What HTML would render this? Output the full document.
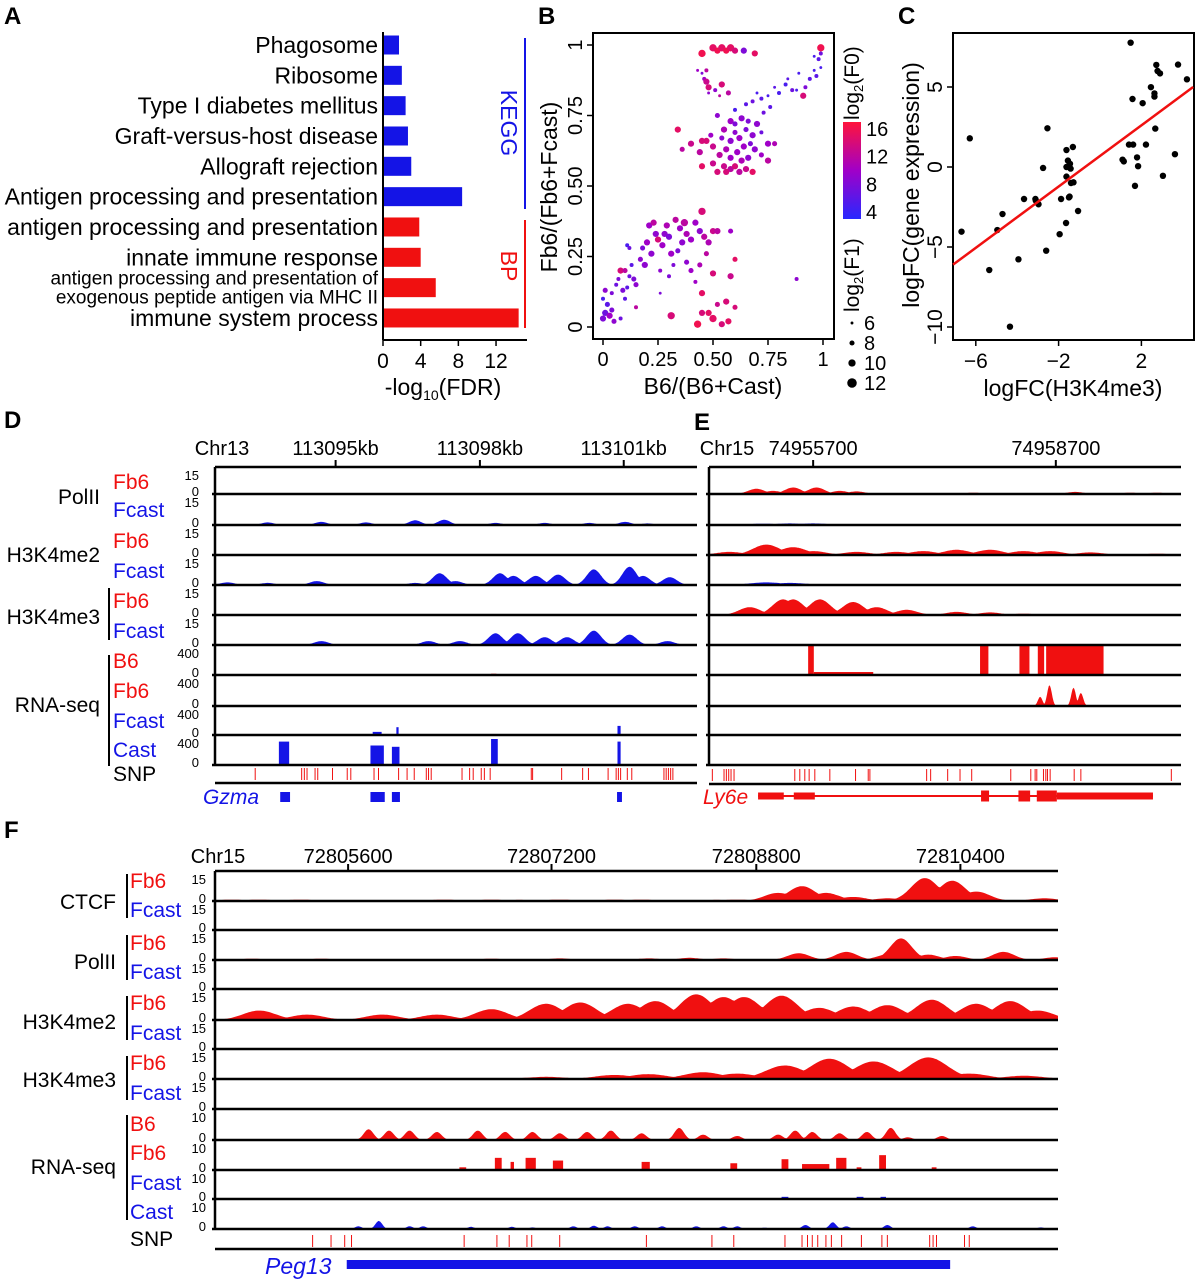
<!DOCTYPE html>
<html><head><meta charset="utf-8"><style>
html,body{margin:0;padding:0;background:#fff;}
svg{display:block;font-family:"Liberation Sans",Arial,sans-serif;}
</style></head><body>
<svg id="fig" width="1196" height="1280" viewBox="0 0 1196 1280" xmlns="http://www.w3.org/2000/svg"></svg>
<script>
// ---------- Panel A data ----------
const aCategories=["Phagosome","Ribosome","Type I diabetes mellitus","Graft-versus-host disease","Allograft rejection","Antigen processing and presentation","antigen processing and presentation","innate immune response","antigen processing and presentation of|exogenous peptide antigen via MHC II","immune system process"];
const aValues=[1.7,2.0,2.4,2.65,3.0,8.4,3.85,4.0,5.6,14.4];
const aGroups=["KEGG","KEGG","KEGG","KEGG","KEGG","KEGG","BP","BP","BP","BP"];
const aTicks=[0,4,8,12];
// ---------- Panel B data ----------
const bX=[0.45,0.50,0.52,0.54,0.56,0.58,0.60,0.64,0.69,0.99,0.43,0.45,0.47,0.46,0.47,0.48,0.54,0.51,0.57,0.48,0.53,0.60,0.65,0.68,0.70,0.72,0.75,0.78,0.80,0.83,0.86,0.88,0.91,0.92,0.94,0.96,0.97,0.99,0.98,0.96,0.99,0.84,0.89,0.76,0.73,0.52,0.58,0.60,0.63,0.66,0.70,0.55,0.60,0.62,0.65,0.68,0.72,0.58,0.64,0.67,0.56,0.61,0.69,0.53,0.58,0.63,0.66,0.72,0.50,0.47,0.45,0.40,0.34,0.36,0.44,0.50,0.45,0.55,0.58,0.60,0.65,0.68,0.56,0.75,0.78,0.75,0.52,0.62,0.49,0.54,
0.00,0.01,0.02,0.00,0.03,0.05,0.01,0.04,0.06,0.07,0.08,0.10,0.09,0.11,0.12,0.14,0.10,0.15,0.13,0.11,0.12,0.17,0.18,0.19,0.20,0.22,0.24,0.21,0.23,0.25,0.27,0.28,0.29,0.30,0.31,0.33,0.35,0.37,0.38,0.40,0.42,0.44,0.45,0.46,0.48,0.50,0.52,0.58,0.36,0.34,0.32,0.26,0.30,0.38,0.40,0.44,0.47,0.60,0.58,0.50,0.45,0.48,0.50,0.43,0.54,0.57,0.56,0.52,0.31,0.15,0.88,0.60,0.45,0.42,0.26,0.08,0.04];
const bY=[0.97,0.99,0.98,0.99,0.98,0.99,0.98,0.98,0.97,0.99,0.91,0.90,0.91,0.88,0.87,0.85,0.86,0.84,0.83,0.83,0.82,0.77,0.79,0.80,0.83,0.81,0.82,0.85,0.83,0.86,0.84,0.84,0.82,0.85,0.88,0.91,0.89,0.92,0.95,0.96,0.97,0.88,0.90,0.78,0.76,0.75,0.73,0.72,0.74,0.73,0.72,0.70,0.69,0.67,0.70,0.68,0.69,0.66,0.64,0.65,0.63,0.62,0.63,0.61,0.60,0.59,0.60,0.61,0.64,0.66,0.66,0.65,0.70,0.63,0.62,0.58,0.57,0.57,0.56,0.57,0.56,0.55,0.55,0.59,0.65,0.65,0.55,0.55,0.68,0.67,
0.03,0.05,0.08,0.10,0.04,0.02,0.13,0.12,0.15,0.17,0.20,0.20,0.13,0.14,0.18,0.17,0.10,0.15,0.22,0.29,0.28,0.24,0.28,0.22,0.30,0.26,0.33,0.36,0.37,0.31,0.29,0.33,0.36,0.32,0.26,0.38,0.35,0.37,0.33,0.31,0.37,0.34,0.41,0.32,0.30,0.34,0.34,0.34,0.30,0.27,0.22,0.20,0.18,0.23,0.20,0.22,0.26,0.24,0.18,0.19,0.12,0.05,0.03,0.01,0.01,0.02,0.09,0.08,0.04,0.07,0.17,0.07,0.05,0.16,0.12,0.03,0.06];
const bF0=[16,15,16,15,16,15,14,8,15,16,10,8,12,10,13,14,14,9,12,9,12,5,6,7,5,6,5,6,5,5,7,5,14,8,6,5,6,5,6,5,7,6,5,6,7,9,10,8,9,8,9,11,9,10,8,9,7,9,10,8,11,10,9,12,10,11,9,10,13,14,14,13,15,12,12,13,15,13,12,14,13,15,14,12,11,10,14,12,10,9,
8,7,6,5,10,9,9,8,7,8,14,12,8,6,7,8,6,9,6,5,7,9,8,9,10,9,9,10,12,14,10,9,11,8,10,12,10,12,11,10,10,9,14,12,11,13,12,10,9,8,8,9,8,9,10,11,12,15,13,14,15,15,15,16,14,15,14,13,14,12,9,14,14,10,8,7,8];
const bF1=[10,10,9,10,9,10,9,9,9,10,6,6,7,7,9,9,9,7,8,6,6,7,7,7,6,7,6,6,7,7,7,6,9,7,7,6,7,6,7,6,7,6,6,7,7,8,9,8,9,8,9,9,8,9,8,9,7,9,9,8,9,9,9,9,9,9,9,8,9,9,9,9,9,8,9,9,9,9,9,9,9,9,9,9,8,9,9,9,8,8,
9,9,8,7,9,8,8,7,7,7,9,8,8,7,7,8,7,8,7,7,7,8,8,9,9,9,9,9,9,9,9,9,9,9,9,9,9,10,9,9,9,9,10,9,9,9,9,8,9,8,7,7,7,8,8,8,8,8,9,9,9,9,10,10,9,9,9,8,10,7,7,8,9,7,6,7,8];
const bTicks=[0,0.25,0.5,0.75,1];
const bTickLabels=["0","0.25","0.50","0.75","1"];
const bColorTicks=[4,8,12,16];
const bSizeTicks=[6,8,10,12];
// ---------- Panel C data ----------
const cX=[-6.29,-6.69,-5.35,-4.96,-4.71,-4.35,-3.94,-3.67,-3.12,-3.10,-2.97,-2.75,-2.6,-2.54,-1.95,-1.88,-1.62,-1.62,-1.62,-1.64,-1.55,-1.5,-1.47,-1.42,-1.31,-1.28,-1.06,1.09,1.15,1.48,1.57,1.6,1.4,1.69,1.79,1.84,2.06,2.22,2.46,2.63,2.63,2.67,2.72,2.78,2.9,3.04,3.62,3.77,4.2,-1.4,-1.45];
const cY=[1.79,-4.04,-6.44,-3.94,-2.94,-9.98,-5.77,-2.0,-2.0,-2.1,-2.33,-0.06,-5.23,2.42,-4.2,-2.0,1.06,0.0,-0.6,-3.5,0.4,-1.9,-1.85,-0.1,1.25,-0.96,-2.75,0.46,0.35,7.77,4.25,1.4,1.4,-1.18,0.6,0.05,3.99,1.4,4.99,4.6,4.4,2.4,6.38,6.0,5.85,-0.55,0.8,6.4,5.48,-1.0,0.2];
const cFit=[0.69,0.957];
const cXTicks=[-6,-2,2];
const cYTicks=[5,0,-5,-10];
// ---------- Track data (positions in panel reading units, amplitudes 0-1) ----------
const dPolFcast=[[600,0.1],[720,0.12],[820,0.1],[930,0.18],[995,0.2],[1110,0.08],[1220,0.08],[1320,0.08],[1400,0.12],[1450,0.06]];
const dMe2Fcast=[[510,0.1],[600,0.08],[710,0.15],[930,0.08],[985,0.45],[1020,0.15],[1120,0.45],[1150,0.35],[1200,0.35],[1250,0.4],[1330,0.6],[1410,0.7],[1440,0.35],[1500,0.3]];
const dMe3Fcast=[[720,0.15],[960,0.15],[1030,0.15],[1110,0.45],[1160,0.45],[1220,0.3],[1270,0.3],[1330,0.55],[1410,0.4],[1495,0.15]];
const dRnaFcast=[[835,855,0.12],[888,893,0.3],[1383,1390,0.35]];
const dRnaCast=[[625,648,0.9],[830,860,0.75],[878,895,0.7],[1100,1115,1.0],[1383,1390,0.9]];
const dRnaB6=[[1100,1112,0.05],[835,850,0.03]];
const dSnp=[572,676,682,688,706,712,745,778,786,838,848,893,912,928,955,960,966,1035,1052,1060,1078,1085,1098,1190,1193,1258,1305,1318,1362,1380,1385,1390,1405,1415,1487,1492,1497,1502,1507];
const dGene=[[628,650],[830,862],[878,896],[1382,1393]];
const ePolFb6=[[200,0.2],[250,0.12],[310,0.25],[380,0.25],[450,0.12],[500,0.1],[850,0.05],[1155,0.08],[1320,0.05],[1400,0.05]];
const ePolFcast=[[220,0.05],[300,0.06],[370,0.06]];
const eMe2Fb6=[[120,0.12],[230,0.4],[310,0.3],[370,0.15],[500,0.12],[620,0.12],[700,0.15],[800,0.2],[900,0.2],[1000,0.15],[1080,0.15],[1200,0.1],[1400,0.05]];
const eMe2Fcast=[[230,0.1],[300,0.08],[500,0.04],[700,0.04],[900,0.04],[1100,0.04]];
const eMe3Fb6=[[180,0.3],[280,0.6],[310,0.6],[390,0.6],[490,0.5],[560,0.3],[650,0.2],[800,0.12],[900,0.1],[1000,0.05],[1200,0.03],[1420,0.03]];
const eRnaB6=[[355,372,1.0],[372,550,0.1],[870,895,1.0],[988,1018,1.0],[1043,1062,1.0],[1068,1240,1.0]];
const eRnaFb6=[[1050,0.35],[1078,0.8],[1150,0.7],[1172,0.5]];
const eSnp=[68,103,110,117,124,133,315,330,345,358,375,420,497,535,540,710,722,773,810,845,962,1022,1035,1040,1060,1067,1072,1080,1152,1172,1443];
const eExons=[[205,282],[312,375],[873,897],[985,1020],[1040,1100],[1100,1388]];
const fCtcfFb6=[[340,0.05],[380,0.05],[440,0.05],[650,0.05],[720,0.05],[760,0.04],[820,0.05],[900,0.05],[940,0.05],[1050,0.04],[1080,0.05],[1140,0.3],[1175,0.55],[1210,0.3],[1250,0.15],[1300,0.1],[1355,0.85],[1395,0.75],[1430,0.35],[1530,0.1]];
const fPolFb6=[[370,0.05],[470,0.05],[720,0.05],[820,0.06],[950,0.06],[1010,0.08],[1060,0.06],[1170,0.25],[1240,0.3],[1300,0.2],[1320,0.8],[1360,0.2],[1400,0.15],[1470,0.3],[1545,0.1]];
const fMe2Fb6=[[380,0.35],[450,0.2],[560,0.2],[640,0.2],[720,0.4],[800,0.6],[850,0.65],[920,0.6],[960,0.7],[1020,0.95],[1060,0.85],[1090,0.85],[1145,0.9],[1200,0.45],[1250,0.5],[1300,0.55],[1365,0.75],[1430,0.6],[1480,0.7],[1520,0.35]];
const fMe3Fb6=[[480,0.03],[600,0.03],[700,0.03],[800,0.08],[900,0.15],[950,0.18],[1030,0.25],[1080,0.2],[1150,0.5],[1215,0.75],[1280,0.65],[1360,0.8],[1420,0.2],[1500,0.12]];
const fRnaB6=[[540,0.4],[570,0.35],[600,0.35],[640,0.3],[700,0.35],[740,0.3],[780,0.3],[820,0.25],[860,0.3],[895,0.35],[940,0.25],[995,0.45],[1030,0.2],[1080,0.15],[1140,0.2],[1165,0.35],[1190,0.3],[1230,0.25],[1270,0.3],[1305,0.45],[1330,0.1],[1380,0.15]];
const fRnaFb6=[[673,683,0.1],[725,735,0.45],[748,753,0.3],[770,785,0.45],[810,825,0.35],[940,952,0.3],[1070,1080,0.25],[1145,1155,0.4],[1175,1215,0.22],[1225,1240,0.45],[1255,1262,0.1],[1288,1298,0.55],[1365,1372,0.1]];
const fRnaFcast=[[1145,1155,0.08],[1255,1265,0.08],[1290,1298,0.08]];
const fRnaCast=[[525,0.1],[555,0.3],[600,0.1],[620,0.1],[690,0.08],[750,0.08],[780,0.06],[840,0.1],[870,0.12],[890,0.1],[930,0.1],[970,0.1],[1020,0.1],[1060,0.1],[1080,0.1],[1120,0.05],[1180,0.15],[1220,0.25],[1240,0.1],[1300,0.15],[1425,0.1],[1525,0.06]];
const fSnp=[458,485,505,515,680,728,746,772,779,820,947,1043,1075,1150,1175,1183,1190,1198,1210,1218,1233,1262,1292,1300,1362,1367,1372,1413,1420];
const fGene=[[508,1392]];

const NS="http://www.w3.org/2000/svg";
const svg=document.getElementById('fig');
const RED="#f01010", BLUE="#1414e6";
function el(tag,attrs,parent){const e=document.createElementNS(NS,tag);for(const k in attrs)e.setAttribute(k,attrs[k]);(parent||svg).appendChild(e);return e;}
function txt(s,x,y,attrs,parent){const t=el('text',Object.assign({x:x,y:y},attrs||{}),parent);t.textContent=s;return t;}

// panel letters
[["A",4,24],["B",538,24],["C",898,24],["D",4,428],["E",694,430],["F",4,838]].forEach(p=>{
 const t=txt(p[0],p[1],p[2],{'font-size':24,'font-weight':'bold'});
 
 
});

// ===== Panel A =====
(function(){
 const g=el('g',{});
 
 
 const x0=383, k=9.42;
 const xs=v=>x0+v*k;
 const ys=i=>45+i*30.33;
 aValues.forEach((v,i)=>{
  const r=el('rect',{x:x0,y:ys(i)-9.5,width:xs(v)-x0,height:19,fill:aGroups[i]==="KEGG"?BLUE:RED},g);
  
  
  const parts=aCategories[i].split('|');
  if(parts.length===1){const t=txt(parts[0],378,ys(i)+8,{'font-size':23,'text-anchor':'end',textLength:null},g);
   t.removeAttribute('textLength');
   
   }
  else{parts.forEach((p,j)=>{const t=txt(p,378,ys(i)-3+j*19,{'font-size':19,'text-anchor':'end'},g);
   
   });}
 });
 el('line',{x1:x0,y1:32,x2:x0,y2:340,stroke:'#000','stroke-width':2},g);
 el('line',{x1:x0,y1:340,x2:527,y2:340,stroke:'#000','stroke-width':2},g);
 aTicks.forEach(t=>{el('line',{x1:xs(t),y1:340,x2:xs(t),y2:346,stroke:'#000','stroke-width':1.5},g);
  const l=txt(String(t),xs(t),368,{'font-size':21,'text-anchor':'middle'},g);
  
  });
 const xt=el('text',{x:443,y:395,'font-size':23,'text-anchor':'middle'},g);
 xt.innerHTML='-log<tspan font-size="14" dy="5">10</tspan><tspan dy="-5">(FDR)</tspan>';
 
 
 el('line',{x1:525,y1:38,x2:525,y2:209,stroke:BLUE,'stroke-width':2},g);
 el('line',{x1:525,y1:220,x2:525,y2:328,stroke:RED,'stroke-width':2},g);
 const k1=txt('KEGG',0,0,{'font-size':23,fill:BLUE,'text-anchor':'middle',transform:'translate(501,123) rotate(90)'},g);
 
 
 const k2=txt('BP',0,0,{'font-size':23,fill:RED,'text-anchor':'middle',transform:'translate(501,266) rotate(90)'},g);
 
 
})();

// ===== Panel B =====
function cmap(c){let t=Math.max(0,Math.min(1,(c-3)/14));
 const a=[40,40,255],m=[160,0,200],b=[255,20,60];let r;
 if(t<0.5){const u=t/0.5;r=a.map((v,i)=>v+(m[i]-v)*u);}else{const u=(t-0.5)/0.5;r=m.map((v,i)=>v+(b[i]-v)*u);}
 return 'rgb('+r.map(Math.round).join(',')+')';}
function rad(s){return 0.9+(s-5)*0.55;}
(function(){
 const g=el('g',{});
 
 
 const xs=v=>603+v*220, ys=v=>327-v*282;
 el('rect',{x:593,y:33,width:241,height:306,fill:'none',stroke:'#000','stroke-width':2},g);
 bX.forEach((x,i)=>{const c=el('circle',{cx:xs(x),cy:ys(bY[i]),r:rad(bF1[i]),fill:cmap(bF0[i])},g);
  
  });
 bTicks.forEach((t,i)=>{
  el('line',{x1:xs(t),y1:339,x2:xs(t),y2:345,stroke:'#000','stroke-width':1.5},g);
  txt(bTickLabels[i],xs(t),366,{'font-size':20,'text-anchor':'middle'},g);
  el('line',{x1:587,y1:ys(t),x2:593,y2:ys(t),stroke:'#000','stroke-width':1.5},g);
  txt(bTickLabels[i],0,0,{'font-size':20,'text-anchor':'middle',transform:'translate(582,'+ys(t)+') rotate(-90)'},g);
 });
 const xt=txt('B6/(B6+Cast)',713,394,{'font-size':23,'text-anchor':'middle'},g);
 
 
 const yt=txt('Fb6/(Fb6+Fcast)',0,0,{'font-size':23,'text-anchor':'middle',transform:'translate(557,187) rotate(-90)'},g);
 
 
 const defs=el('defs',{},g);
 const lg=el('linearGradient',{id:'cb',x1:0,y1:1,x2:0,y2:0},defs);
 [0,0.5,1].forEach(o=>el('stop',{offset:o,'stop-color':cmap(3+o*14)},lg));
 const cb=el('rect',{x:843,y:122,width:18,height:97,fill:'url(#cb)'},g);
 
 
 const cy=c=>219-(c-3)/14*97;
 bColorTicks.forEach(c=>txt(String(c),866,cy(c)+7,{'font-size':20},g));
 const t1=el('text',{'font-size':21,transform:'translate(859,120) rotate(-90)'},g);
 t1.innerHTML='log<tspan font-size="13" dy="4">2</tspan><tspan dy="-4">(F0)</tspan>';
 
 
 const t2=el('text',{'font-size':21,transform:'translate(859,312) rotate(-90)'},g);
 t2.innerHTML='log<tspan font-size="13" dy="4">2</tspan><tspan dy="-4">(F1)</tspan>';
 
 
 bSizeTicks.forEach((s,i)=>{const yy=323+i*20;
  const c=el('circle',{cx:852,cy:yy,r:rad(s),fill:'#000'},g);
  
  
  txt(String(s),864,yy+7,{'font-size':20},g);});
})();

// ===== Panel C =====
(function(){
 const g=el('g',{});
 
 
 const xs=v=>1100+v*20.7, ys=v=>167-v*16;
 const xmin=-7.1,xmax=4.5;
 el('rect',{x:953,y:33,width:241,height:307,fill:'none',stroke:'#000','stroke-width':2},g);
 cX.forEach((x,i)=>{const c=el('circle',{cx:xs(x),cy:ys(cY[i]),r:3.2,fill:'#000'},g);
  
  });
 const fl=el('line',{x1:xs(xmin),y1:ys(cFit[0]+cFit[1]*xmin),x2:xs(xmax),y2:ys(cFit[0]+cFit[1]*xmax),stroke:'#f01010','stroke-width':2.5},g);
 
 
 cXTicks.forEach(t=>{el('line',{x1:xs(t),y1:340,x2:xs(t),y2:346,stroke:'#000','stroke-width':1.5},g);
  txt(String(t).replace('-','\u2212'),xs(t),368,{'font-size':21,'text-anchor':'middle'},g);});
 cYTicks.forEach(t=>{el('line',{x1:947,y1:ys(t),x2:953,y2:ys(t),stroke:'#000','stroke-width':1.5},g);
  txt(String(t).replace('-','\u2212'),0,0,{'font-size':21,'text-anchor':'middle',transform:'translate(942,'+ys(t)+') rotate(-90)'},g);});
 const xt=txt('logFC(H3K4me3)',1073,396,{'font-size':23,'text-anchor':'middle'},g);
 
 
 const yt=txt('logFC(gene expression)',0,0,{'font-size':23,'text-anchor':'middle',transform:'translate(919,185) rotate(-90)'},g);
 
 
})();

// ===== Genome tracks =====
function makeScale(d0,d1,p0,p1){return v=>p0+(v-d0)/(d1-d0)*(p1-p0);}
function peakTrack(g,xs,d0,d1,base,h,peaks,color,sig){
 let d='M'+xs(d0)+','+base;const N=500;
 for(let i=0;i<=N;i++){const u=d0+(d1-d0)*i/N;let v=0;
  peaks.forEach(p=>{const z=(u-p[0])/sig;v=Math.max(v,p[1]*Math.exp(-z*z/2));});
  v=Math.min(v,1);d+='L'+xs(u).toFixed(1)+','+(base-v*h).toFixed(1);}
 d+='L'+xs(d1)+','+base+'Z';
 const p=el('path',{d:d,fill:color},g);
 
 
}
function blockTrack(g,xs,base,h,blocks,color){
 blocks.forEach(b=>{const r=el('rect',{x:xs(b[0]),y:base-b[2]*h,width:Math.max(1,xs(b[1])-xs(b[0])),height:b[2]*h,fill:color},g);
  
  });
}
function frame(g,xL,xR,top,bases,snpY,snpLine){
 el('line',{x1:xL,y1:top,x2:xR,y2:top,stroke:'#000','stroke-width':2.5},g);
 el('line',{x1:xL,y1:top,x2:xL,y2:bases[bases.length-1],stroke:'#000','stroke-width':2.5},g);
 bases.forEach(b=>el('line',{x1:xL-3,y1:b,x2:xR,y2:b,stroke:'#000','stroke-width':2.5},g));
 el('line',{x1:xL,y1:snpLine,x2:xR,y2:snpLine,stroke:'#000','stroke-width':2.5},g);
}
function snps(g,xs,arr,y){arr.forEach(s=>{const l=el('line',{x1:xs(s),y1:y-6,x2:xs(s),y2:y+6,stroke:RED,'stroke-width':1},g);
 
 });}
function labels(g,items){items.forEach(it=>{const t=txt(it[0],it[1],it[2],Object.assign({'font-size':21},it[3]||{}),g);
 
 });}
function scaleNums(g,x,bases,top,max){bases.forEach((b,i)=>{const tp=i===0?top:bases[i-1];
 txt(max[i],x,tp+13,{'font-size':13,'text-anchor':'end'},g);
 txt('0',x,b+2,{'font-size':13,'text-anchor':'end'},g);});}
function bracket(g,x,y1,y2){el('line',{x1:x,y1:y1,x2:x,y2:y2,stroke:'#000','stroke-width':2},g);}

// Panel D
(function(){
 const g=el('g',{});
 
 
 const xL=215,xR=697,d0=482,d1=1561;
 const xs=makeScale(d0,d1,xL,xR);
 const bases=[494,525,555,585,615,645,675,706,735,765],top=467,H=26;
 peakTrack(g,xs,d0,d1,bases[1],H,dPolFcast,BLUE,14);
 peakTrack(g,xs,d0,d1,bases[3],H,dMe2Fcast,BLUE,16);
 peakTrack(g,xs,d0,d1,bases[5],H,dMe3Fcast,BLUE,16);
 blockTrack(g,xs,bases[6],H,dRnaB6,RED);
 blockTrack(g,xs,bases[8],H,dRnaFcast,BLUE);
 blockTrack(g,xs,bases[9],H,dRnaCast,BLUE);
 frame(g,xL,xR,top,bases,774,783);
 [[752,'113095kb'],[1075,'113098kb'],[1397,'113101kb']].forEach(t=>{el('line',{x1:xs(t[0]),y1:top,x2:xs(t[0]),y2:top-7,stroke:'#000','stroke-width':2},g);
  txt(t[1],xs(t[0]),455,{'font-size':20,'text-anchor':'middle'},g);});
 txt('Chr13',222,455,{'font-size':20,'text-anchor':'middle'},g);
 snps(g,xs,dSnp,774);
 dGene.forEach(b=>{const r=el('rect',{x:xs(b[0]),y:792,width:xs(b[1])-xs(b[0]),height:10,fill:BLUE},g);
  
  });
 labels(g,[['PolII',100,504,{'text-anchor':'end'}],['Fb6',113,489,{fill:RED}],['Fcast',113,517,{fill:BLUE}],
  ['H3K4me2',100,562,{'text-anchor':'end'}],['Fb6',113,548,{fill:RED}],['Fcast',113,578,{fill:BLUE}],
  ['H3K4me3',100,624,{'text-anchor':'end'}],['Fb6',113,608,{fill:RED}],['Fcast',113,638,{fill:BLUE}],
  ['RNA-seq',100,712,{'text-anchor':'end'}],['B6',113,668,{fill:RED}],['Fb6',113,698,{fill:RED}],['Fcast',113,728,{fill:BLUE}],['Cast',113,757,{fill:BLUE}],['SNP',113,781,{}],
  ['Gzma',203,804,{fill:BLUE,'font-style':'italic'},'gene-name']]);
 bracket(g,109,588,640);bracket(g,109,655,766);
 scaleNums(g,199,bases,top,['15','15','15','15','15','15','400','400','400','400']);
})();

// Panel E
(function(){
 const g=el('g',{});
 
 
 const xL=709,xR=1181,d0=58,d1=1472;
 const xs=makeScale(d0,d1,xL,xR);
 const bases=[494,525,555,585,615,645,675,706,735,765],top=467,H=26;
 peakTrack(g,xs,d0+30,d1-50,bases[0],H,ePolFb6,RED,25);
 peakTrack(g,xs,d0+30,d1-50,bases[1],H,ePolFcast,BLUE,45);
 peakTrack(g,xs,d0,d1,bases[2],H,eMe2Fb6,RED,40);
 peakTrack(g,xs,d0,d1-200,bases[3],H,eMe2Fcast,BLUE,50);
 peakTrack(g,xs,d0+30,d1,bases[4],H,eMe3Fb6,RED,32);
 blockTrack(g,xs,bases[6],30,eRnaB6,RED);
 peakTrack(g,xs,d0,d1,bases[7],H,eRnaFb6,RED,7);
 frame(g,xL,xR,top,bases,775,784);
 [[370,'74955700'],[1097,'74958700']].forEach(t=>{el('line',{x1:xs(t[0]),y1:top,x2:xs(t[0]),y2:top-7,stroke:'#000','stroke-width':2},g);
  txt(t[1],xs(t[0]),455,{'font-size':20,'text-anchor':'middle'},g);});
 txt('Chr15',727,455,{'font-size':20,'text-anchor':'middle'},g);
 snps(g,xs,eSnp,775);
 el('line',{x1:xs(205),y1:796,x2:xs(1388),y2:796,stroke:RED,'stroke-width':2},g);
 eExons.forEach((b,i)=>{const hh=(i===2||i===3||i===4)?11:7;
  const r=el('rect',{x:xs(b[0]),y:796-hh/2,width:xs(b[1])-xs(b[0]),height:hh,fill:RED},g);
  
  });
 labels(g,[['Ly6e',703,804,{fill:RED,'font-style':'italic'},'gene-name']]);
})();

// Panel F
(function(){
 const g=el('g',{});
 
 
 const xL=215,xR=1058,d0=315,d1=1550;
 const xs=makeScale(d0,d1,xL,xR);
 const bases=[901,930,960,989,1020,1049,1079,1109,1140,1170,1199,1229],top=871,H=27;
 peakTrack(g,xs,d0,d1,bases[0],H,fCtcfFb6,RED,20);
 peakTrack(g,xs,d0,d1,bases[2],H,fPolFb6,RED,16);
 peakTrack(g,xs,d0,d1,bases[4],H,fMe2Fb6,RED,24);
 peakTrack(g,xs,d0,d1,bases[6],H,fMe3Fb6,RED,28);
 peakTrack(g,xs,d0,d1,bases[8],H,fRnaB6,RED,7);
 blockTrack(g,xs,bases[9],H,fRnaFb6,RED);
 blockTrack(g,xs,bases[10],H,fRnaFcast,BLUE);
 peakTrack(g,xs,d0,d1,bases[11],H,fRnaCast,BLUE,5);
 frame(g,xL,xR,top,bases,1241,1249);
 [[510,'72805600'],[808,'72807200'],[1108,'72808800'],[1407,'72810400']].forEach(t=>{el('line',{x1:xs(t[0]),y1:top,x2:xs(t[0]),y2:top-7,stroke:'#000','stroke-width':2},g);
  txt(t[1],xs(t[0]),863,{'font-size':20,'text-anchor':'middle'},g);});
 txt('Chr15',218,863,{'font-size':20,'text-anchor':'middle'},g);
 snps(g,xs,fSnp,1241);
 fGene.forEach(b=>{const r=el('rect',{x:xs(b[0]),y:1260,width:xs(b[1])-xs(b[0]),height:9,fill:BLUE},g);
  
  });
 labels(g,[['CTCF',116,909,{'text-anchor':'end'}],['Fb6',130,888,{fill:RED}],['Fcast',130,917,{fill:BLUE}],
  ['PolII',116,969,{'text-anchor':'end'}],['Fb6',130,950,{fill:RED}],['Fcast',130,979,{fill:BLUE}],
  ['H3K4me2',116,1029,{'text-anchor':'end'}],['Fb6',130,1010,{fill:RED}],['Fcast',130,1040,{fill:BLUE}],
  ['H3K4me3',116,1087,{'text-anchor':'end'}],['Fb6',130,1070,{fill:RED}],['Fcast',130,1100,{fill:BLUE}],
  ['RNA-seq',116,1174,{'text-anchor':'end'}],['B6',130,1131,{fill:RED}],['Fb6',130,1160,{fill:RED}],['Fcast',130,1190,{fill:BLUE}],['Cast',130,1219,{fill:BLUE}],['SNP',130,1246,{}],
  ['Peg13',265,1274,{fill:BLUE,'font-style':'italic','font-size':23},'gene-name']]);
 bracket(g,127,874,918);bracket(g,127,935,980);bracket(g,127,996,1040);bracket(g,127,1056,1100);bracket(g,127,1115,1220);
 scaleNums(g,206,bases,top,['15','15','15','15','15','15','15','15','10','10','10','10']);
})();
</script>
</body></html>
